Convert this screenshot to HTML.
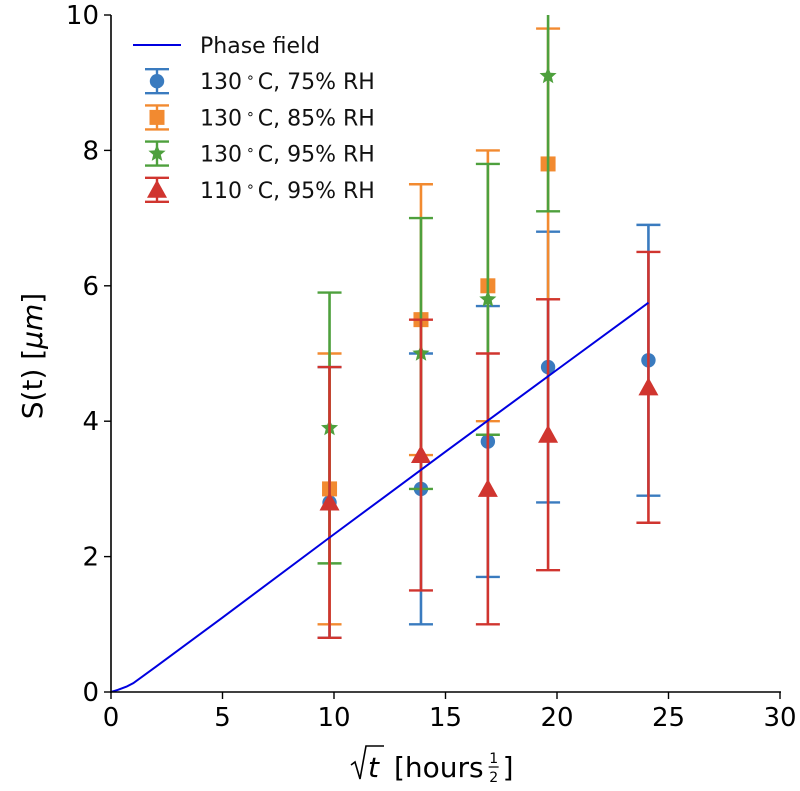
<!DOCTYPE html>
<html><head><meta charset="utf-8"><style>
html,body{margin:0;padding:0;background:#fff;}
svg{display:block;font-family:"DejaVu Sans","Liberation Sans",sans-serif;}
</style></head><body>
<svg id="chart" width="800" height="791" viewBox="0 0 800 791" xmlns="http://www.w3.org/2000/svg">
<g id="plot"></g>
<g id="axes"></g>
<g id="legend"></g>
</svg>
<script>
const xTicks = [0,5,10,15,20,25,30];
const yTicks = [0,2,4,6,8,10];
const seriesNames = ["130°C, 75% RH","130°C, 85% RH","130°C, 95% RH","110°C, 95% RH"];
const blueX = [9.8,13.9,16.9,19.6,24.1];
const blueY = [2.8,3.0,3.7,4.8,4.9];
const blueErr = [2,2,2,2,2];
const orangeX = [9.8,13.9,16.9,19.6];
const orangeY = [3.0,5.5,6.0,7.8];
const orangeErr = [2,2,2,2];
const greenX = [9.8,13.9,16.9,19.6];
const greenY = [3.9,5.0,5.8,9.1];
const greenErr = [2,2,2,2];
const redX = [9.8,13.9,16.9,19.6,24.1];
const redY = [2.8,3.5,3.0,3.8,4.5];
const redErr = [2,2,2,2,2];
const phaseX = [0,0.3,0.7,1,2,5,10,15,20,24.1];
const phaseY = [0,0.03,0.08,0.13,0.37,1.1,2.33,3.55,4.76,5.75];

const NS="http://www.w3.org/2000/svg";
const L=111,R=780,T=15,B=692;
const sx=v=>L+(v-0)/(30-0)*(R-L);
const sy=v=>B-(v-0)/(10-0)*(B-T);
function mk(tag,attrs,parent){const e=document.createElementNS(NS,tag);for(const k in attrs)e.setAttribute(k,attrs[k]);parent.appendChild(e);return e;}
const plot=document.getElementById('plot'),axes=document.getElementById('axes'),leg=document.getElementById('legend');
const defs=mk('defs',{},document.getElementById('chart'));
const cp=mk('clipPath',{id:'clip'},defs);mk('rect',{x:L-20,y:T,width:R-L+40,height:B-T},cp);
plot.setAttribute('clip-path','url(#clip)');

function marker(shape,cx,cy,color,parent){
  let e;
  if(shape==='circle') e=mk('circle',{cx:cx,cy:cy,r:7.2,fill:color},parent);
  else if(shape==='square') e=mk('rect',{x:cx-7.5,y:cy-7.5,width:15,height:15,fill:color},parent);
  else if(shape==='star'){let p=[];for(let i=0;i<10;i++){const a=-Math.PI/2+i*Math.PI/5,r=i%2?4:9;p.push((cx+r*Math.cos(a)).toFixed(1)+','+(cy+r*Math.sin(a)).toFixed(1));}e=mk('polygon',{points:p.join(' '),fill:color},parent);}
  else e=mk('polygon',{points:`${cx},${cy-10} ${cx+10},${cy+8} ${cx-10},${cy+8}`,fill:color},parent);
  return e;
}
function errSeries(xs,ys,es,color,shape,name){
  const g=mk('g',{},plot);
  
  
  xs.forEach((x,i)=>{
    const px=sx(x),lo=sy(ys[i]-es[i]),hi=sy(ys[i]+es[i]);
    const bar=mk('line',{x1:px,x2:px,y1:lo,y2:hi,stroke:color,'stroke-width':2.6},g);
    
    
    mk('line',{x1:px-12,x2:px+12,y1:lo,y2:lo,stroke:color,'stroke-width':2.4},g);
    mk('line',{x1:px-12,x2:px+12,y1:hi,y2:hi,stroke:color,'stroke-width':2.4},g);
    const m=marker(shape,px,sy(ys[i]),color,g);
    
    
  });
}
const cols=['#3a7bbf','#f28a30','#4ea03d','#d0352f'];
const shapes=['circle','square','star','triangle'];
errSeries(blueX,blueY,blueErr,cols[0],'circle','series-75rh');
errSeries(orangeX,orangeY,orangeErr,cols[1],'square','series-85rh');
errSeries(greenX,greenY,greenErr,cols[2],'star','series-95rh');
errSeries(redX,redY,redErr,cols[3],'triangle','series-110c-95rh');
const pl=mk('polyline',{points:phaseX.map((x,i)=>sx(x)+','+sy(phaseY[i])).join(' '),fill:'none',stroke:'#0000e0','stroke-width':2},plot);



// axes
mk('line',{x1:L,x2:L,y1:T,y2:B+1,stroke:'#000','stroke-width':1.6},axes);
mk('line',{x1:L-1,x2:R+1,y1:B,y2:B,stroke:'#000','stroke-width':1.6},axes);
xTicks.forEach(v=>{
  mk('line',{x1:sx(v),x2:sx(v),y1:B,y2:B+7,stroke:'#000','stroke-width':1.4},axes);
  const t=mk('text',{x:sx(v),y:B+34,'text-anchor':'middle','font-size':26,fill:'#000'},axes);t.textContent=v;
  
  
});
yTicks.forEach(v=>{
  mk('line',{x1:L-7,x2:L,y1:sy(v),y2:sy(v),stroke:'#000','stroke-width':1.4},axes);
  const t=mk('text',{x:L-12,y:sy(v)+9,'text-anchor':'end','font-size':26,fill:'#000'},axes);t.textContent=v;
  
  
});
const yl=mk('text',{x:0,y:0,transform:'translate(42,356) rotate(-90)','text-anchor':'middle','font-size':28,fill:'#000'},axes);
yl.innerHTML='S(t) [<tspan font-style="italic">μm</tspan>]';


const xl=mk('g',{},axes);


mk('path',{d:'M351,765 L355,762 L360,779 L366,746 L384,746',fill:'none',stroke:'#000','stroke-width':1.6},xl);
mk('text',{x:368,y:777,'font-size':28,fill:'#000','font-style':'italic'},xl).textContent='t';
const hx=mk('text',{x:394,y:777,'font-size':28,fill:'#000'},xl);hx.textContent='[hours';
const fx=394+hx.getComputedTextLength()+10;
mk('text',{x:fx,y:763,'font-size':14,fill:'#000','text-anchor':'middle'},xl).textContent='1';
mk('line',{x1:fx-5,x2:fx+5,y1:767,y2:767,stroke:'#000','stroke-width':1.2},xl);
mk('text',{x:fx,y:782,'font-size':14,fill:'#000','text-anchor':'middle'},xl).textContent='2';
mk('text',{x:fx+9,y:777,'font-size':28,fill:'#000'},xl).textContent=']';

// legend
const ly0=45,ldy=36.2;
const e0=mk('g',{},leg);


mk('line',{x1:133,x2:181,y1:ly0,y2:ly0,stroke:'#0000e0','stroke-width':2},e0);
mk('text',{x:200,y:ly0+8,'font-size':22,fill:'#111'},e0).textContent='Phase field';
seriesNames.forEach((n,i)=>{
  const y=ly0+ldy*(i+1);
  const g=mk('g',{},leg);
  
  
  mk('line',{x1:157,x2:157,y1:y-12,y2:y+12,stroke:cols[i],'stroke-width':2.4},g);
  mk('line',{x1:145,x2:169,y1:y-12,y2:y-12,stroke:cols[i],'stroke-width':2.4},g);
  mk('line',{x1:145,x2:169,y1:y+12,y2:y+12,stroke:cols[i],'stroke-width':2.4},g);
  marker(shapes[i],157,y,cols[i],g);
  const t=mk('text',{x:200,y:y+8,'font-size':22,fill:'#111'},g);
  const parts=n.split('°');
  t.innerHTML=parts[0]+'<tspan dx="4" dy="-7" font-size="14">∘</tspan><tspan dx="3" dy="7">'+parts[1]+'</tspan>';
});
</script>
</body></html>
